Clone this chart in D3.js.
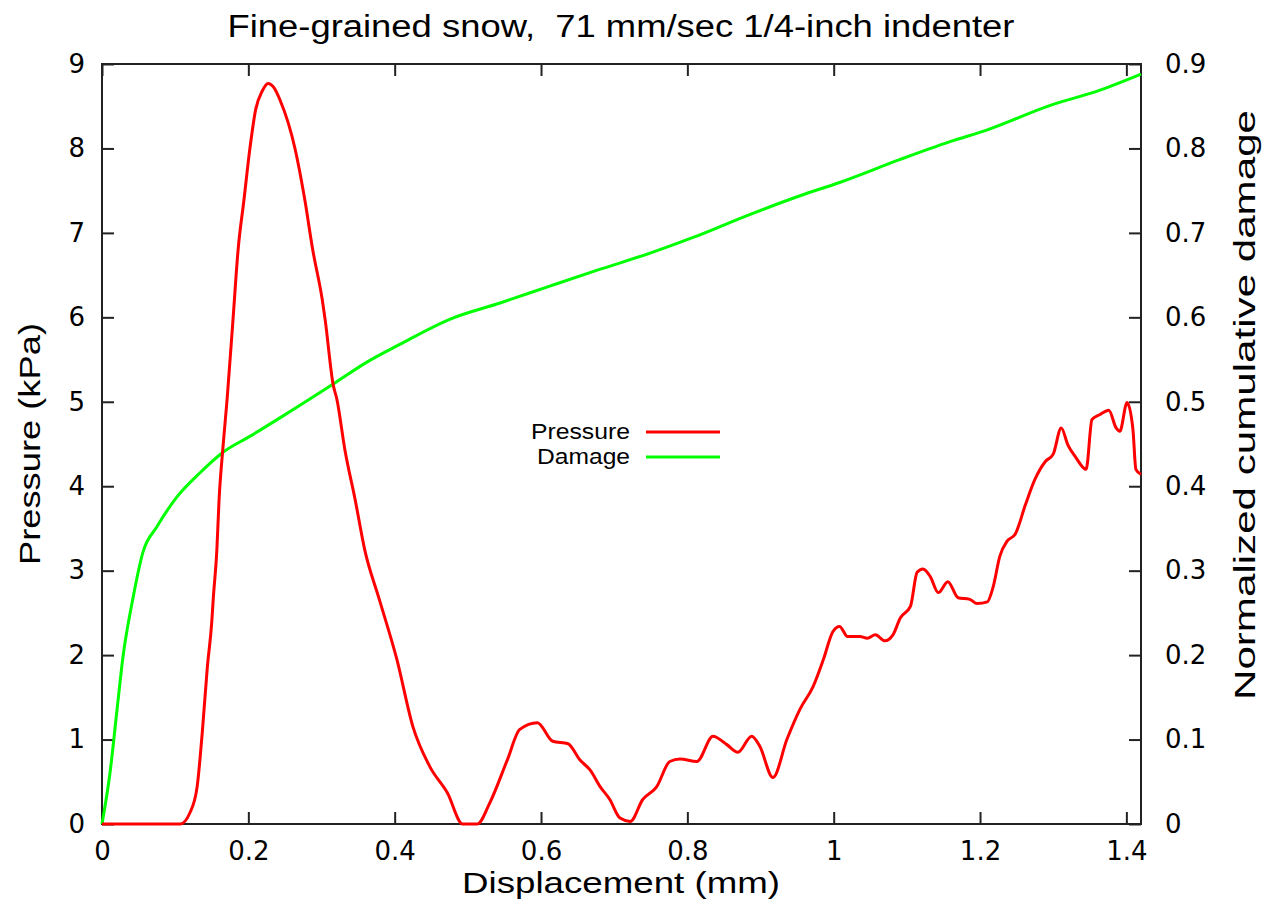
<!DOCTYPE html>
<html>
<head>
<meta charset="utf-8">
<style>
  body { margin: 0; background: #fff; }
  svg text { font-family: "Liberation Sans", Arial, sans-serif; fill: #000; }
</style>
</head>
<body>
<div id="chart"></div>
<script src="https://d3js.org/d3.v7.min.js"></script>
<script>
// ---- data ----
var pressureX = [0, 0.107, 0.120, 0.130, 0.137, 0.144, 0.150, 0.152, 0.157, 0.160, 0.165, 0.171, 0.179, 0.186,
  0.194, 0.202, 0.210, 0.219, 0.227, 0.235, 0.243, 0.264, 0.277, 0.288, 0.301, 0.305, 0.316, 0.321, 0.332,
  0.346, 0.359, 0.379, 0.403, 0.425, 0.448, 0.472, 0.493, 0.513, 0.530, 0.554, 0.571, 0.595, 0.616, 0.637,
  0.653, 0.667, 0.681, 0.694, 0.708, 0.722, 0.739, 0.758, 0.776, 0.790, 0.813, 0.835, 0.854, 0.869, 0.888,
  0.899, 0.917, 0.936, 0.954, 0.972, 0.986, 0.999, 1.008, 1.019, 1.036, 1.046, 1.057, 1.070, 1.081, 1.091,
  1.105, 1.114, 1.122, 1.132, 1.143, 1.156, 1.170, 1.186, 1.196, 1.210, 1.218, 1.227, 1.237, 1.248, 1.262,
  1.275, 1.289, 1.300, 1.311, 1.320, 1.331, 1.345, 1.353, 1.364, 1.376, 1.386, 1.391, 1.401, 1.409, 1.413, 1.420];
var pressureY = [0, 0, 0.13, 0.44, 1.08, 1.86, 2.39, 2.66, 3.25, 3.84, 4.43, 5.03, 5.97, 6.80,
  7.39, 7.99, 8.46, 8.68, 8.77, 8.72, 8.58, 7.99, 7.40, 6.80, 6.21, 5.97, 5.20, 5.03, 4.43,
  3.84, 3.25, 2.66, 1.95, 1.15, 0.68, 0.37, 0, 0, 0.25, 0.76, 1.12, 1.20, 0.98, 0.95,
  0.76, 0.64, 0.44, 0.29, 0.07, 0.03, 0.29, 0.44, 0.74, 0.77, 0.74, 1.04, 0.94, 0.85, 1.04,
  0.92, 0.55, 1.00, 1.36, 1.63, 1.95, 2.28, 2.34, 2.22, 2.22, 2.20, 2.24, 2.17, 2.24, 2.44,
  2.58, 2.98, 3.02, 2.93, 2.74, 2.87, 2.68, 2.66, 2.61, 2.63, 2.81, 3.17, 3.35, 3.43, 3.78,
  4.08, 4.29, 4.38, 4.69, 4.49, 4.34, 4.20, 4.79, 4.85, 4.90, 4.69, 4.65, 4.99, 4.67, 4.20, 4.14];

var damageX = [0, 0.011, 0.0205, 0.0287, 0.042, 0.056, 0.075, 0.103, 0.134, 0.165, 0.202, 0.247,
  0.316, 0.362, 0.407, 0.476, 0.544, 0.612, 0.681, 0.749, 0.806, 0.886, 0.954, 1.009, 1.091, 1.159,
  1.210, 1.296, 1.364, 1.420];
var damageY = [0, 0.061, 0.135, 0.198, 0.266, 0.322, 0.352, 0.388, 0.416, 0.440, 0.459, 0.483,
  0.521, 0.547, 0.568, 0.598, 0.617, 0.637, 0.657, 0.676, 0.694, 0.722, 0.744, 0.760, 0.787, 0.808,
  0.822, 0.851, 0.869, 0.888];

var xTicks = [0, 0.2, 0.4, 0.6, 0.8, 1, 1.2, 1.4];
var yTicks = [0, 1, 2, 3, 4, 5, 6, 7, 8, 9];
var y2Ticks = [0, 0.1, 0.2, 0.3, 0.4, 0.5, 0.6, 0.7, 0.8, 0.9];

var W = 1268, H = 909;
var margin = {top: 64, right: 127, bottom: 85, left: 102};
var width = W - margin.left - margin.right,
    height = H - margin.top - margin.bottom;

var x = d3.scaleLinear().domain([0, 1.42]).range([0, width]);
var y = d3.scaleLinear().domain([0, 9]).range([height, 0]);
var y2 = d3.scaleLinear().domain([0, 0.9]).range([height, 0]);

var svg = d3.select("#chart").append("svg")
  .attr("width", W)
  .attr("height", H);

// title
svg.append("text")
  .attr("x", 621)
  .attr("y", 37)
  .attr("text-anchor", "middle")
  .style("font-size", "31px")
  .style("white-space", "pre")
  .attr("textLength", 787)
  .attr("lengthAdjust", "spacingAndGlyphs")
  .text("Fine-grained snow,  71 mm/sec 1/4-inch indenter");

var g = svg.append("g")
  .attr("transform", "translate(" + margin.left + "," + margin.top + ")");

// axes (gnuplot style, ticks inward)
function styleAxis(sel) {
  sel.select(".domain").remove();
  sel.selectAll(".tick line").attr("stroke", "#222").attr("stroke-width", 2);
  sel.selectAll(".tick text")
    .style("font-family", "'DejaVu Sans', sans-serif")
    .style("font-size", "26px")
    .attr("fill", "#000");
}

g.append("g")
  .attr("transform", "translate(0," + height + ")")
  .call(d3.axisBottom(x).tickValues(xTicks).tickSizeInner(-12).tickPadding(18)
    .tickFormat(function(d) { return d3.format("")(d); }))
  .call(styleAxis);

g.append("g")
  .call(d3.axisTop(x).tickValues(xTicks).tickSizeInner(-12).tickFormat(""))
  .call(styleAxis);

g.append("g")
  .call(d3.axisLeft(y).tickValues(yTicks).tickSizeInner(-12).tickPadding(17))
  .call(styleAxis);

g.append("g")
  .attr("transform", "translate(" + width + ",0)")
  .call(d3.axisRight(y2).tickValues(y2Ticks).tickSizeInner(-12).tickPadding(24)
    .tickFormat(function(d) { return d3.format("")(d); }))
  .call(styleAxis);

// frame
g.append("rect")
  .attr("width", width)
  .attr("height", height)
  .attr("fill", "none")
  .attr("stroke", "#222")
  .attr("stroke-width", 2);

// axis titles
svg.append("text")
  .attr("x", 621)
  .attr("y", 893)
  .attr("text-anchor", "middle")
  .style("font-size", "30px")
  .attr("textLength", 318)
  .attr("lengthAdjust", "spacingAndGlyphs")
  .text("Displacement (mm)");

svg.append("text")
  .attr("transform", "translate(40,444) rotate(-90)")
  .attr("text-anchor", "middle")
  .style("font-size", "30px")
  .attr("textLength", 242)
  .attr("lengthAdjust", "spacingAndGlyphs")
  .text("Pressure (kPa)");

svg.append("text")
  .attr("transform", "translate(1255,405) rotate(-90)")
  .attr("text-anchor", "middle")
  .style("font-size", "30px")
  .attr("textLength", 590)
  .attr("lengthAdjust", "spacingAndGlyphs")
  .text("Normalized cumulative damage");

// lines
var pressure = pressureX.map(function(d, i) { return [d, pressureY[i]]; });
var damage = damageX.map(function(d, i) { return [d, damageY[i]]; });

var linePressure = d3.line()
  .x(function(d) { return x(d[0]); })
  .y(function(d) { return y(d[1]); })
  .curve(d3.curveMonotoneX);

var lineDamage = d3.line()
  .x(function(d) { return x(d[0]); })
  .y(function(d) { return y2(d[1]); })
  .curve(d3.curveMonotoneX);

g.append("path")
  .datum(damage)
  .attr("d", lineDamage)
  .attr("fill", "none")
  .attr("stroke", "#00ff00")
  .attr("stroke-width", 3);

g.append("path")
  .datum(pressure)
  .attr("d", linePressure)
  .attr("fill", "none")
  .attr("stroke", "#ff0000")
  .attr("stroke-width", 3);

// legend
var legend = svg.append("g");
var legendItems = [["Pressure", "#ff0000"], ["Damage", "#00ff00"]];
legendItems.forEach(function(item, i) {
  var ly = 432 + i * 25;
  legend.append("text")
    .attr("x", 630)
    .attr("y", ly + 7)
    .attr("text-anchor", "end")
    .style("font-size", "22px")
    .attr("textLength", i === 0 ? 99 : 93)
    .attr("lengthAdjust", "spacingAndGlyphs")
    .text(item[0]);
  legend.append("line")
    .attr("x1", 646).attr("x2", 720)
    .attr("y1", ly).attr("y2", ly)
    .attr("stroke", item[1])
    .attr("stroke-width", 3);
});
</script>
</body>
</html>
